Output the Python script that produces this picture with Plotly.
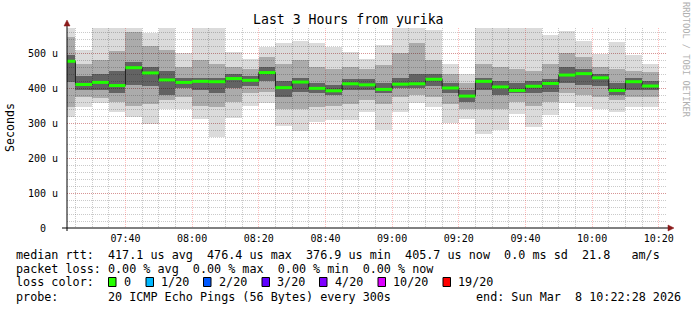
import pandas as pd
import plotly.graph_objects as go

# ---------------- data (microseconds) ----------------
interval_end = pd.date_range("2026-03-08 07:25:00", "2026-03-08 10:20:00", freq="5min")
median_rtt = [476.4, 410, 416, 407, 458, 443, 423, 416, 419, 418, 427, 422, 444, 401, 417, 399, 392, 412,
              409, 396, 411, 412, 425, 400, 376.9, 419, 403, 393, 405, 413, 437, 441, 429, 393, 418, 405.7]
ping_max = [580, 509, 580, 580, 580, 558, 580, 499, 580, 580, 502, 483, 516, 528, 535, 530, 518, 502,
            482, 523, 580, 580, 566, 469, 440, 580, 580, 580, 580, 551, 563, 534, 496, 532, 494, 470]
ping_min = [318, 345, 358, 332, 318, 297, 339, 339, 311, 259, 315, 350, 356, 291, 278, 304, 309, 309,
            332, 280, 332, 358, 345, 301, 312, 270, 280, 326, 290, 323, 358, 345, 339, 332, 347, 345]
mid_hi = [545, 470, 480, 505, 560, 520, 510, 460, 480, 470, 460, 455, 490, 470, 480, 460, 455, 460,
          455, 465, 500, 530, 480, 440, 415, 470, 460, 455, 450, 470, 500, 490, 460, 455, 450, 445]
mid_lo = [345, 375, 372, 360, 350, 355, 365, 375, 350, 345, 360, 385, 390, 340, 340, 345, 350, 355,
          365, 355, 375, 380, 375, 355, 340, 340, 340, 360, 350, 360, 385, 380, 375, 365, 375, 375]
core_hi = [494, 435, 440, 450, 475, 460, 450, 430, 430, 430, 440, 435, 460, 420, 430, 415, 410, 425,
           425, 415, 430, 440, 440, 415, 395, 430, 420, 415, 420, 425, 460, 455, 440, 415, 430, 420]
core_lo = [418, 395, 395, 385, 410, 405, 380, 400, 395, 385, 400, 405, 420, 375, 390, 385, 380, 395,
           395, 385, 400, 400, 405, 385, 360, 395, 380, 385, 385, 390, 415, 410, 405, 380, 395, 395]

y_tickvals = [0, 100, 200, 300, 400, 500]
y_ticktext = ["0\u00a0\u00a0", "100 u", "200 u", "300 u", "400 u", "500 u"]

title_text = "Last 3 Hours from yurika"
legend_lines = [
    "median rtt:  417.1 us avg  476.4 us max  376.9 us min  405.7 us now  0.0 ms sd  21.8   am/s",
    "packet loss: 0.00 % avg  0.00 % max  0.00 % min  0.00 % now",
    "loss color:",
    "probe:       20 ICMP Echo Pings (56 Bytes) every 300s",
]
loss_labels = ["0", "1/20", "2/20", "3/20", "4/20", "10/20", "19/20"]
loss_colors = ["#26ff00", "#00b8ff", "#0059ff", "#5e00ff", "#7e00ff", "#dd00ff", "#ff0000"]
end_text = "end: Sun Mar\u00a0\u00a08 10:22:28 2026"

# ---------------- geometry helpers ----------------
W, H = 697, 310
L, R, T, B = 67, 667, 28, 228


def px(x):
    return (x - L) / (R - L)


def py(y):
    return (B - y) / (B - T)


FONT = "DejaVu Sans Mono"
step = pd.Timedelta(minutes=5)
centers = interval_end - step / 2
starts = interval_end - step
x_start = pd.Timestamp("2026-03-08 07:22:28")
x_end = pd.Timestamp("2026-03-08 10:22:28")

fig = go.Figure()


def band(lo, hi, color):
    fig.add_trace(go.Bar(
        x=centers, y=[h - l for h, l in zip(hi, lo)], base=lo,
        width=[300000] * len(lo), marker=dict(color=color, line=dict(width=0)),
        showlegend=False, hoverinfo="skip"))


band(ping_min, ping_max, "rgba(0,0,0,0.14)")
band(mid_lo, mid_hi, "rgba(0,0,0,0.22)")
band(core_lo, core_hi, "rgba(0,0,0,0.42)")

# step connector of the median
fig.add_trace(go.Scatter(
    x=list(starts) + [interval_end[-1]], y=median_rtt + [median_rtt[-1]],
    mode="lines", line=dict(color="#202020", width=1, shape="hv"),
    showlegend=False, hoverinfo="skip"))

# green median segments
gx, gy = [], []
for s, e, m in zip(starts, interval_end, median_rtt):
    gx += [s, e, None]
    gy += [m, m, None]
fig.add_trace(go.Scatter(x=gx, y=gy, mode="lines", line=dict(color="#20ff00", width=3),
                         showlegend=False, hoverinfo="skip"))

fig.update_layout(
    width=W, height=H, autosize=False,
    margin=dict(l=L, r=W - R, t=T, b=H - B, pad=0),
    paper_bgcolor="white", plot_bgcolor="white",
    barmode="overlay", bargap=0,
    font=dict(family=FONT, color="black", size=10),
    xaxis=dict(
        type="date", range=[x_start, x_end], showline=False, zeroline=False,
        tick0="2026-03-08 07:40:00", dtick=1200000, tickformat="%H:%M",
        ticks="outside", ticklen=1, tickcolor="rgba(0,0,0,0)",
        tickfont=dict(family=FONT, size=10, color="black"),
        showgrid=True, gridcolor="rgba(255,0,0,0.26)", griddash="1px,1px", gridwidth=1,
        minor=dict(dtick=300000, showgrid=True, gridcolor="rgba(128,128,128,0.42)",
                   griddash="1px,1px", gridwidth=1),
    ),
    yaxis=dict(
        range=[0, 200 / 0.35], showline=False, zeroline=False,
        tickvals=y_tickvals, ticktext=y_ticktext,
        ticks="outside", ticklen=6, tickcolor="rgba(0,0,0,0)",
        tickfont=dict(family=FONT, size=10, color="black"),
        showgrid=True, gridcolor="rgba(255,0,0,0.26)", griddash="1px,1px", gridwidth=1,
        minor=dict(dtick=20, showgrid=True, gridcolor="rgba(128,128,128,0.42)",
                   griddash="1px,1px", gridwidth=1),
    ),
)

shapes = []
# axis lines
shapes.append(dict(type="line", xref="paper", yref="paper", x0=px(62), x1=px(670), y0=py(228), y1=py(228),
                   line=dict(color="black", width=1)))
shapes.append(dict(type="line", xref="paper", yref="paper", x0=px(67), x1=px(67), y0=py(231), y1=py(24),
                   line=dict(color="black", width=1)))
# arrows
shapes.append(dict(type="path", xref="paper", yref="paper",
                   path=f"M {px(668)} {py(225)} L {px(674)} {py(228)} L {px(668)} {py(231)} Z",
                   fillcolor="#8b1a1a", line=dict(color="#8b1a1a", width=0.5)))
shapes.append(dict(type="path", xref="paper", yref="paper",
                   path=f"M {px(64)} {py(26)} L {px(67)} {py(20)} L {px(70)} {py(26)} Z",
                   fillcolor="#8b1a1a", line=dict(color="#8b1a1a", width=0.5)))

annotations = []
annotations.append(dict(text=title_text, xref="paper", yref="paper", x=px(348), y=py(19),
                        xanchor="center", yanchor="middle", showarrow=False,
                        font=dict(family=FONT, size=13.2, color="black")))
annotations.append(dict(text="Seconds", xref="paper", yref="paper", x=px(10), y=py(128),
                        xanchor="center", yanchor="middle", showarrow=False, textangle=-90,
                        font=dict(family=FONT, size=11.6, color="black")))
annotations.append(dict(text="RRDTOOL / TOBI OETIKER", xref="paper", yref="paper", x=px(686), y=py(60),
                        xanchor="center", yanchor="middle", showarrow=False, textangle=90,
                        font=dict(family=FONT, size=8.7, color="#b0b0b0")))

line_y = [254.5, 268.5, 282, 296.5]
for txt, yy in zip(legend_lines, line_y):
    annotations.append(dict(text=txt.replace(" ", "\u00a0"), xref="paper", yref="paper", x=px(14), y=py(yy),
                            xanchor="left", yanchor="middle", showarrow=False,
                            font=dict(family=FONT, size=11.75, color="black")))
annotations.append(dict(text=end_text.replace(" ", "\u00a0"), xref="paper", yref="paper", x=px(683),
                        y=py(line_y[3]), xanchor="right", yanchor="middle", showarrow=False,
                        font=dict(family=FONT, size=11.75, color="black")))

sq_x = [108.5, 146, 203.5, 262, 319.5, 378, 443]
for sx, lab, col in zip(sq_x, loss_labels, loss_colors):
    shapes.append(dict(type="rect", xref="paper", yref="paper", x0=px(sx), x1=px(sx + 7.5),
                       y0=py(277.5), y1=py(286.5), fillcolor=col, line=dict(color="black", width=1)))
    annotations.append(dict(text=lab, xref="paper", yref="paper", x=px(sx + 13), y=py(line_y[2]),
                            xanchor="left", yanchor="middle", showarrow=False,
                            font=dict(family=FONT, size=11.75, color="black")))

fig.update_layout(shapes=shapes, annotations=annotations)
fig.write_html("out.html")
